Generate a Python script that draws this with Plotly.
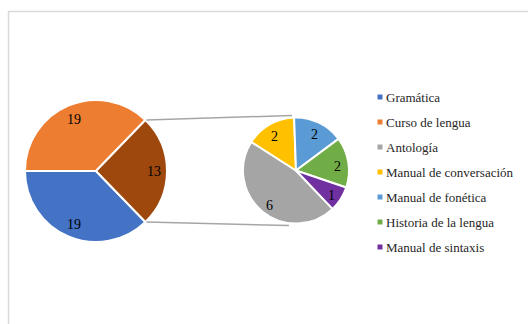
import math
import plotly.graph_objects as go

# ---- data ----
main_labels = ["Gramática", "Curso de lengua", "Otros"]
main_values = [19, 19, 13]
main_colors = ["#4472C4", "#ED7D31", "#9E480E"]

sec_labels = ["Antología", "Manual de conversación", "Manual de fonética",
              "Historia de la lengua", "Manual de sintaxis"]
sec_values = [6, 2, 2, 2, 1]
sec_colors = ["#A5A5A5", "#FFC000", "#5B9BD5", "#70AD47", "#7030A0"]

legend_labels = main_labels[:2] + sec_labels
legend_colors = main_colors[:2] + sec_colors

# ---- layout geometry (pixels) ----
W, H = 528, 324
m_cx, m_cy, m_r = 96, 171, 71
s_cx, s_cy, s_r = 296, 170.5, 53
leg_x, leg_y0, leg_dy = 380, 97, 25

def px(x):
    return x / W

def py(y):
    return 1 - y / H

other_angle = main_values[2] / sum(main_values) * 360
main_rotation = 90 + other_angle / 2
sec_rotation = 136.4

FONT = "'Liberation Serif', 'DejaVu Serif', 'Times New Roman', serif"

fig = go.Figure()

fig.add_trace(go.Pie(
    labels=main_labels, values=main_values, sort=False, direction="clockwise",
    rotation=main_rotation,
    marker=dict(colors=main_colors, line=dict(color="white", width=2)),
    domain=dict(x=[px(m_cx - m_r), px(m_cx + m_r)], y=[py(m_cy + m_r), py(m_cy - m_r)]),
    textinfo="none", showlegend=False, hoverinfo="label+value",
))

fig.add_trace(go.Pie(
    labels=sec_labels, values=sec_values, sort=False, direction="clockwise",
    rotation=sec_rotation,
    marker=dict(colors=sec_colors, line=dict(color="white", width=2)),
    domain=dict(x=[px(s_cx - s_r), px(s_cx + s_r)], y=[py(s_cy + s_r), py(s_cy - s_r)]),
    textinfo="none", showlegend=False, hoverinfo="label+value",
))

annotations = []
shapes = []

# data labels placed along each slice bisector (computed from the values)
def add_labels(values, rotation, cx, cy, r, frac, dy):
    total = sum(values)
    start = rotation
    for v in values:
        span = v / total * 360
        mid = math.radians(start + span / 2)
        x = cx + frac * r * math.sin(mid)
        y = cy - frac * r * math.cos(mid) + dy
        annotations.append(dict(
            x=px(x), y=py(y), xref="paper", yref="paper", text=str(v),
            showarrow=False, xanchor="center", yanchor="middle",
            font=dict(family=FONT, size=14, color="black"),
        ))
        start += span

add_labels(main_values, main_rotation, m_cx, m_cy, m_r, 0.81, 1)
add_labels(sec_values, sec_rotation, s_cx, s_cy, s_r, 0.8, 2.5)

# legend (square swatch + label for each category)
for i, (lab, col) in enumerate(zip(legend_labels, legend_colors)):
    yc = leg_y0 + i * leg_dy
    shapes.append(dict(type="rect", xref="paper", yref="paper",
                       x0=px(leg_x - 2.5), x1=px(leg_x + 2.5),
                       y0=py(yc + 2.5), y1=py(yc - 2.5),
                       fillcolor=col, line=dict(width=0)))
    annotations.append(dict(
        x=px(leg_x + 4), y=py(yc), xref="paper", yref="paper", text=lab,
        showarrow=False, xanchor="left", yanchor="middle",
        font=dict(family=FONT, size=13, color="#262626"),
    ))

# connector lines from the "Otros" slice edges to the top/bottom of the second pie
half = math.radians(other_angle / 2)
p_top = (m_cx + m_r * math.cos(half), m_cy - m_r * math.sin(half))
p_bot = (m_cx + m_r * math.cos(half), m_cy + m_r * math.sin(half))
q_top = (s_cx - 4, s_cy - s_r - 2)
q_bot = (s_cx - 7, s_cy + s_r + 2)

shapes += [
    dict(type="line", xref="paper", yref="paper",
         x0=px(p_top[0] + 1), y0=py(p_top[1]), x1=px(q_top[0]), y1=py(q_top[1]),
         line=dict(color="#A6A6A6", width=1.5)),
    dict(type="line", xref="paper", yref="paper",
         x0=px(p_bot[0] + 1), y0=py(p_bot[1]), x1=px(q_bot[0]), y1=py(q_bot[1]),
         line=dict(color="#A6A6A6", width=1.5)),
    dict(type="rect", xref="paper", yref="paper",
         x0=px(8.5), y0=-0.1, x1=1.1, y1=py(11.5),
         line=dict(color="#D9D9D9", width=1.5), fillcolor="rgba(0,0,0,0)", layer="below"),
]

fig.update_layout(
    width=W, height=H, margin=dict(l=0, r=0, t=0, b=0),
    paper_bgcolor="white", plot_bgcolor="white",
    font=dict(family=FONT, size=13, color="#262626"),
    showlegend=False,
    shapes=shapes, annotations=annotations,
)

fig.write_html("out.html")
